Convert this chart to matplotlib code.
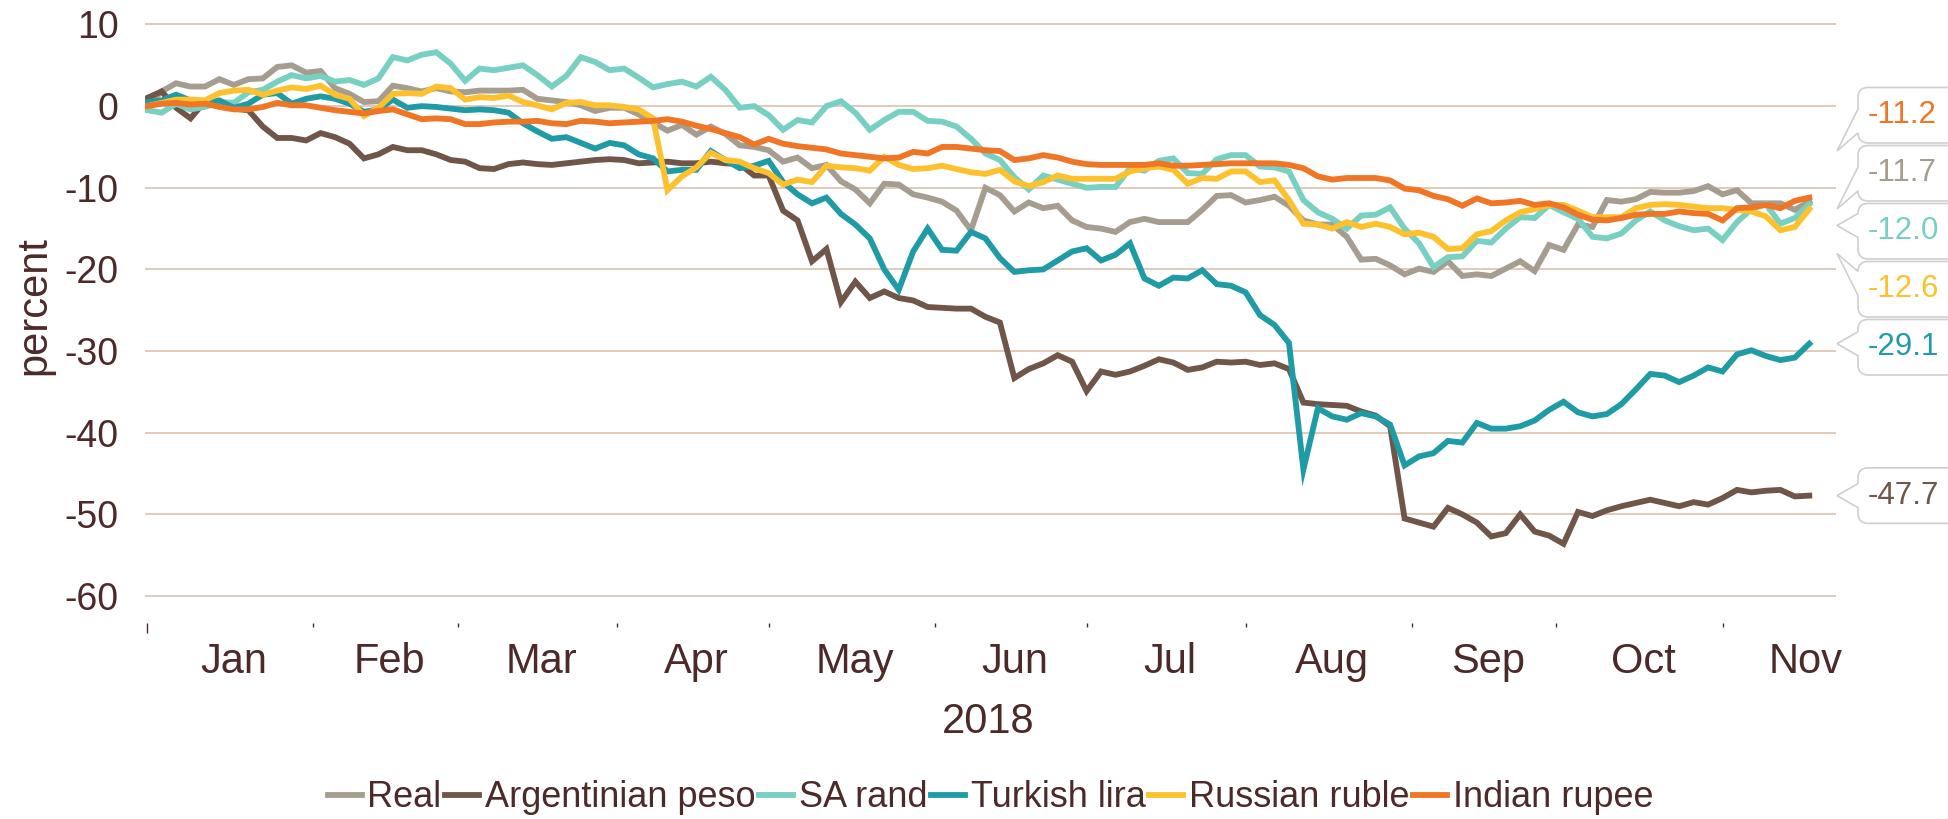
import numpy as np
import pandas as pd
import matplotlib
matplotlib.use('Agg')
import matplotlib.pyplot as plt
from matplotlib.path import Path
import matplotlib.patches as patches
from matplotlib.transforms import IdentityTransform

plt.rcParams['font.family'] = ['Liberation Sans', 'DejaVu Sans']
plt.rcParams['axes.unicode_minus'] = False

# values read every second business day, 1 Jan .. 19 Nov 2018 (percent change vs USD)
dates = pd.bdate_range('2018-01-01', '2018-11-19')[::2]

names = ['Real', 'Argentinian peso', 'SA rand', 'Turkish lira', 'Russian ruble', 'Indian rupee']

real = [0.0, 1.8, 2.8, 2.4, 2.4, 3.3, 2.6, 3.3, 3.4, 4.8,
        5.0, 4.1, 4.3, 2.2, 1.5, 0.5, 0.6, 2.5, 2.2, 1.8,
        2.2, 1.8, 1.7, 1.9, 1.9, 1.9, 2.0, 0.9, 0.7, 0.5,
        0.1, -0.6, -0.2, -0.2, -1.0, -2.0, -3.0, -2.3, -3.5, -2.5,
        -3.4, -4.8, -5.0, -5.4, -6.8, -6.3, -7.6, -7.2, -9.2, -10.2,
        -11.9, -9.5, -9.6, -10.8, -11.2, -11.7, -12.8, -15.2, -10.0, -10.9,
        -12.9, -11.8, -12.5, -12.2, -14.0, -14.8, -15.0, -15.4, -14.2, -13.8,
        -14.2, -14.2, -14.2, -12.7, -11.0, -10.9, -11.8, -11.5, -11.1, -12.2,
        -14.0, -14.5, -14.5, -16.0, -18.8, -18.7, -19.5, -20.6, -19.9, -20.3,
        -19.0, -20.8, -20.6, -20.8, -19.9, -19.0, -20.2, -17.0, -17.6, -14.5,
        -14.8, -11.5, -11.7, -11.4, -10.5, -10.6, -10.6, -10.4, -9.8, -10.8,
        -10.3, -11.9, -11.9, -11.9, -12.7, -11.7]

peso = [1.0, 1.8, -0.2, -1.5, 0.6, 0.4, -0.3, -0.5, -2.5, -3.9,
        -3.9, -4.2, -3.3, -3.8, -4.6, -6.4, -5.9, -5.0, -5.4, -5.4,
        -5.9, -6.6, -6.8, -7.6, -7.7, -7.1, -6.9, -7.1, -7.2, -7.0,
        -6.8, -6.6, -6.5, -6.6, -7.0, -6.9, -6.8, -7.0, -7.0, -6.8,
        -7.0, -7.1, -8.5, -8.5, -12.8, -14.0, -19.0, -17.5, -24.0, -21.5,
        -23.5, -22.7, -23.5, -23.8, -24.6, -24.7, -24.8, -24.8, -25.8, -26.5,
        -33.3, -32.2, -31.5, -30.5, -31.3, -34.9, -32.5, -32.9, -32.5, -31.8,
        -31.0, -31.4, -32.3, -32.0, -31.3, -31.4, -31.3, -31.7, -31.5, -32.2,
        -36.3, -36.5, -36.6, -36.7, -37.4, -37.9, -39.2, -50.5, -51.0, -51.5,
        -49.2, -50.0, -51.0, -52.7, -52.3, -50.0, -52.1, -52.6, -53.6, -49.7,
        -50.2, -49.5, -49.0, -48.6, -48.2, -48.6, -49.0, -48.5, -48.8, -48.0,
        -47.0, -47.3, -47.1, -47.0, -47.8, -47.7]

rand = [-0.5, -0.8, 0.3, -0.4, -0.1, 0.5, 0.4, 1.7, 2.0, 3.0,
        3.8, 3.4, 3.7, 3.0, 3.2, 2.6, 3.4, 6.0, 5.6, 6.3,
        6.6, 5.2, 3.1, 4.6, 4.4, 4.7, 5.0, 3.8, 2.4, 3.7,
        6.0, 5.4, 4.4, 4.6, 3.5, 2.3, 2.7, 3.0, 2.4, 3.6,
        2.0, -0.2, 0.0, -1.1, -2.9, -1.7, -2.0, 0.0, 0.6, -0.8,
        -2.9, -1.7, -0.7, -0.7, -1.8, -1.9, -2.5, -4.0, -5.8, -6.6,
        -8.7, -10.2, -8.5, -9.0, -9.5, -10.0, -9.9, -9.9, -7.6, -7.9,
        -6.7, -6.4, -8.2, -8.3, -6.5, -6.0, -6.0, -7.4, -7.5, -8.0,
        -11.5, -13.0, -13.8, -15.0, -13.4, -13.3, -12.4, -15.0, -16.8, -19.7,
        -18.5, -18.4, -16.5, -16.7, -15.0, -13.6, -13.7, -12.1, -13.0, -13.8,
        -16.0, -16.2, -15.6, -14.0, -12.9, -14.0, -14.7, -15.2, -15.0, -16.4,
        -14.2, -12.6, -12.0, -14.4, -13.7, -12.0]

lira = [0.5, 0.7, 1.4, 0.7, 0.4, 0.7, -0.2, 0.3, 1.4, 1.6,
        0.3, 0.9, 1.2, 0.9, 0.3, -0.7, -0.4, 0.8, -0.2, 0.0,
        -0.1, -0.3, -0.5, -0.4, -0.5, -0.8, -2.1, -3.1, -4.0, -3.8,
        -4.5, -5.2, -4.5, -4.8, -5.9, -6.4, -8.0, -7.8, -7.8, -5.5,
        -6.6, -7.6, -7.3, -6.7, -9.3, -10.8, -11.9, -11.2, -13.2, -14.5,
        -16.2, -20.0, -22.5, -17.8, -15.0, -17.6, -17.7, -15.4, -16.2, -18.6,
        -20.3, -20.1, -20.0, -18.9, -17.8, -17.4, -18.9, -18.2, -16.8, -21.1,
        -22.0, -21.0, -21.1, -20.1, -21.8, -22.0, -22.8, -25.6, -26.8, -29.0,
        -44.5, -37.0, -38.0, -38.4, -37.6, -38.0, -39.0, -44.0, -42.9, -42.5,
        -41.0, -41.2, -38.8, -39.5, -39.5, -39.2, -38.5, -37.2, -36.2, -37.5,
        -38.0, -37.7, -36.5, -34.7, -32.8, -33.0, -33.8, -33.0, -32.0, -32.5,
        -30.4, -29.9, -30.6, -31.1, -30.8, -29.1]

ruble = [0.0, 0.4, 0.8, 0.8, 0.7, 1.6, 1.9, 2.0, 1.4, 1.9,
         2.3, 2.1, 2.5, 1.4, 0.9, -1.2, -0.2, 1.5, 1.6, 1.5,
         2.4, 2.2, 0.8, 1.1, 1.0, 1.3, 0.5, 0.1, -0.4, 0.4,
         0.5, 0.1, 0.1, -0.1, -0.4, -1.5, -10.3, -8.6, -7.5, -5.7,
         -6.6, -6.8, -7.6, -8.2, -9.6, -9.0, -9.3, -7.3, -7.5, -7.6,
         -7.9, -6.2, -7.2, -7.7, -7.6, -7.3, -7.7, -8.1, -8.3, -7.8,
         -9.2, -9.8, -9.3, -8.5, -8.9, -8.9, -8.9, -8.9, -8.0, -7.6,
         -7.4, -7.8, -9.5, -8.8, -8.9, -8.0, -8.0, -9.3, -9.1, -11.5,
         -14.4, -14.5, -15.0, -14.2, -14.8, -14.4, -14.8, -15.7, -15.5, -16.0,
         -17.5, -17.4, -15.7, -15.3, -14.0, -13.0, -12.6, -12.1, -12.1, -12.8,
         -13.6, -13.6, -13.6, -12.5, -12.1, -12.0, -12.1, -12.3, -12.5, -12.5,
         -12.7, -12.9, -13.5, -15.2, -14.8, -12.6]

rupee = [0.0, 0.3, 0.4, 0.2, 0.3, -0.1, -0.4, -0.4, -0.1, 0.4,
         0.1, 0.1, -0.2, -0.5, -0.7, -0.9, -0.6, -0.4, -1.0, -1.6,
         -1.5, -1.6, -2.2, -2.2, -2.0, -1.9, -1.9, -1.8, -2.1, -2.2,
         -1.8, -1.9, -2.1, -2.0, -1.9, -1.8, -1.6, -1.9, -2.4, -2.8,
         -3.3, -3.8, -4.7, -4.0, -4.6, -4.9, -5.1, -5.3, -5.8, -6.0,
         -6.2, -6.4, -6.3, -5.6, -5.8, -5.0, -5.0, -5.2, -5.4, -5.5,
         -6.6, -6.4, -6.0, -6.3, -6.8, -7.1, -7.2, -7.2, -7.2, -7.2,
         -7.0, -7.3, -7.3, -7.2, -7.1, -7.0, -7.0, -7.0, -7.0, -7.2,
         -7.6, -8.6, -9.0, -8.8, -8.8, -8.8, -9.1, -10.1, -10.3, -11.0,
         -11.4, -12.2, -11.3, -11.9, -11.8, -11.6, -12.1, -11.9, -12.4, -13.3,
         -13.9, -14.0, -13.7, -13.3, -13.2, -13.2, -12.9, -13.1, -13.2, -14.0,
         -12.5, -12.4, -12.1, -12.5, -11.6, -11.2]

series = [real, peso, rand, lira, ruble, rupee]
colors = ['#a59d90', '#705649', '#77d0c1', '#1f9ba6', '#fdc12e', '#f07524']
text_col = '#4d2a2a'

W, H = 1949, 819
fig = plt.figure(figsize=(W / 100, H / 100), dpi=100)
ax = fig.add_axes([145 / W, 1 - 623 / H, (1836 - 145) / W, (623 - 20.4) / H])

# business-day positions on the x axis
calendar = pd.bdate_range('2018-01-01', '2018-11-30')
x = calendar.get_indexer(dates)

lines = []
for name, vals, col in zip(names, series, colors):
    ln, = ax.plot(x, vals, color=col, lw=4.2, label=name, solid_joinstyle='miter')
    lines.append(ln)

ax.set_xlim(-0.3, 233.7)
ax.set_ylim(-63.3, 10.5)

# month ticks at month starts, labels in the middle of each month
month = calendar.month.values
starts = np.flatnonzero(np.r_[True, month[1:] != month[:-1]])
ends = np.r_[starts[1:], len(calendar)]
centers = (starts + ends) / 2 + 0.5
ax.set_xticks(centers)
ax.set_xticklabels(calendar[starts].strftime('%b'))
ax.set_xticks(starts, minor=True)
ax.tick_params(axis='x', which='major', length=0, pad=13.5, labelsize=30, labelcolor=text_col)
ax.tick_params(axis='x', which='minor', length=3, width=1, color=text_col)
# the first tick (start of the axis) is drawn longer
ax.xaxis.get_minor_ticks()[0].tick1line.set_markersize(7.5)

ax.set_yticks(range(-60, 11, 10))
ax.tick_params(axis='y', length=0, pad=19, labelsize=27, labelcolor=text_col)

# axis titles placed in figure pixels
fig.text(34 / W, 1 - 306 / H, 'percent', rotation=90, ha='center', va='center',
         fontsize=30, color=text_col)
fig.text(988 / W, 1 - 733 / H, '2018', ha='center', va='baseline',
         fontsize=30, color=text_col)

ax.grid(axis='y', color='#dfc6b2', lw=1.3)
ax.set_axisbelow(True)
for s in ax.spines.values():
    s.set_visible(False)

ax.legend(handles=lines, ncol=6, loc='center', bbox_to_anchor=(0.5082, 0.026),
          bbox_transform=fig.transFigure, frameon=False, fontsize=26,
          handlelength=0.95, handletextpad=0.15, columnspacing=0.1,
          labelcolor=text_col)

# end-value callouts, stacked so they do not overlap (display pixels)
last = np.array([s[-1] for s in series])
vy = np.array([ax.transData.transform((x[-1], v))[1] for v in last])
order = list(np.argsort(-vy))
ideal = vy[order]
step = 58.0
groups = [[k] for k in range(len(order))]
while True:
    pos = np.zeros(len(order))
    for g in groups:
        m = ideal[g].mean()
        for j, k in enumerate(g):
            pos[k] = m + ((len(g) - 1) / 2 - j) * step
    merged = False
    for a in range(len(groups) - 1):
        if pos[groups[a][-1]] - pos[groups[a + 1][0]] < step:
            groups[a] = groups[a] + groups.pop(a + 1)
            merged = True
            break
    if not merged:
        break

box_left = ax.transAxes.transform((1, 0))[0] + 22
bh, r, hw = 55.5, 10, 12
for k, si in enumerate(order):
    cy = pos[k]
    L, R = box_left, box_left + 120
    T, B = cy + bh / 2, cy - bh / 2
    v = vy[si]
    if B <= v <= T:
        ty = min(max(v, B + r + hw), T - r - hw)
        ay = ty
    elif v < B:
        ty = B - 8
        ay = B + r + hw
    else:
        ty = T + 8
        ay = T - r - hw
    tx = L - 21
    verts = [(L + r, T), (R - r, T), (R, T), (R, T - r), (R, B + r), (R, B), (R - r, B),
             (L + r, B), (L, B), (L, B + r), (L, ay - hw), (tx, ty), (L, ay + hw),
             (L, T - r), (L, T), (L + r, T), (L + r, T)]
    codes = [Path.MOVETO, Path.LINETO, Path.CURVE3, Path.CURVE3, Path.LINETO, Path.CURVE3, Path.CURVE3,
             Path.LINETO, Path.CURVE3, Path.CURVE3, Path.LINETO, Path.LINETO, Path.LINETO,
             Path.LINETO, Path.CURVE3, Path.CURVE3, Path.CLOSEPOLY]
    patch = patches.PathPatch(Path(verts, codes), facecolor='white', edgecolor='#cfcfcf',
                              lw=1.2, transform=IdentityTransform(), clip_on=False)
    fig.add_artist(patch)
    fig.text(L + 10, cy, '%.1f' % last[si], transform=IdentityTransform(), ha='left',
             va='center', fontsize=22.5, color=colors[si])

fig.savefig('out.png', dpi=100)
